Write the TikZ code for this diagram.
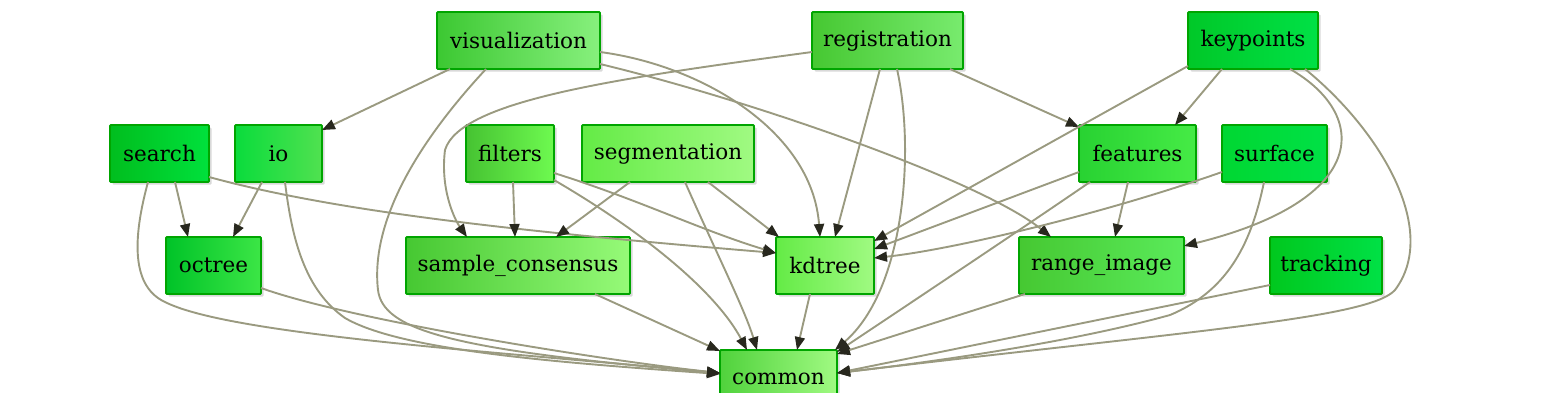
\documentclass[tikz,border=0pt]{standalone}
\usepackage{fontspec}
\setmainfont{DejaVu Serif}
\usetikzlibrary{arrows.meta,shadows,calc}
\definecolor{edgecol}{RGB}{154,154,128}
\definecolor{tipcol}{RGB}{40,40,30}
\definecolor{bordercol}{RGB}{0,165,0}
% node gradient colours
\definecolor{visA}{RGB}{60,200,50}\definecolor{visB}{RGB}{70,240,60}\definecolor{visC}{RGB}{135,240,125}
\definecolor{regA}{RGB}{70,200,50}\definecolor{regB}{RGB}{90,240,70}\definecolor{regC}{RGB}{120,235,110}
\definecolor{kpA}{RGB}{0,200,40}\definecolor{kpB}{RGB}{0,220,55}\definecolor{kpC}{RGB}{0,225,70}
\definecolor{srA}{RGB}{0,190,30}\definecolor{srB}{RGB}{0,210,45}\definecolor{srC}{RGB}{0,225,60}
\definecolor{ioA}{RGB}{10,220,60}\definecolor{ioB}{RGB}{40,225,70}\definecolor{ioC}{RGB}{80,225,80}
\definecolor{fiA}{RGB}{70,195,50}\definecolor{fiB}{RGB}{95,235,65}\definecolor{fiC}{RGB}{110,250,80}
\definecolor{seA}{RGB}{100,235,70}\definecolor{seB}{RGB}{130,245,100}\definecolor{seC}{RGB}{160,250,130}
\definecolor{feA}{RGB}{40,210,50}\definecolor{feB}{RGB}{55,230,60}\definecolor{feC}{RGB}{70,235,70}
\definecolor{suA}{RGB}{0,215,50}\definecolor{suB}{RGB}{0,222,60}\definecolor{suC}{RGB}{0,225,70}
\definecolor{ocA}{RGB}{0,195,40}\definecolor{ocB}{RGB}{0,230,60}\definecolor{ocC}{RGB}{60,230,70}
\definecolor{scA}{RGB}{70,200,50}\definecolor{scB}{RGB}{110,245,80}\definecolor{scC}{RGB}{150,250,120}
\definecolor{kdA}{RGB}{100,235,70}\definecolor{kdB}{RGB}{130,248,100}\definecolor{kdC}{RGB}{160,250,130}
\definecolor{riA}{RGB}{70,200,50}\definecolor{riB}{RGB}{80,225,70}\definecolor{riC}{RGB}{90,235,90}
\definecolor{trA}{RGB}{0,200,30}\definecolor{trB}{RGB}{0,215,50}\definecolor{trC}{RGB}{0,225,70}
\definecolor{coA}{RGB}{80,210,60}\definecolor{coB}{RGB}{120,245,90}\definecolor{coC}{RGB}{160,250,130}
\tikzset{
  box/.style={rectangle, draw=bordercol, line width=1.8pt, rounded corners=1pt,
    anchor=north west, minimum height=57pt, inner sep=0pt, outer sep=0pt,
    font=\fontsize{21.5}{24}\selectfont,
    drop shadow={shadow xshift=2.5pt,shadow yshift=-2.5pt,opacity=0.3}},
  grad/.style={left color=#1A, middle color=#1B, right color=#1C},
  edge/.style={draw=edgecol, line width=1.9pt, -{Triangle[length=13pt,width=10pt,color=tipcol]}},
}
\begin{document}
\begin{tikzpicture}[x=1pt,y=-1pt]
\useasboundingbox (0,0) rectangle (1545,410);
\begin{scope}
\clip (0,0) rectangle (1545,392);
% row 1
\node[box, grad=vis, minimum width=163pt] (vis) at (437,12) {visualization};
\node[box, grad=reg, minimum width=151pt] (reg) at (812,12) {registration};
\node[box, grad=kp,  minimum width=130pt] (kp)  at (1188,12) {keypoints};
% row 2
\node[box, grad=sr, minimum width=99pt]  (search) at (110,125) {search};
\node[box, grad=io, minimum width=87pt]  (io)     at (235,125) {io};
\node[box, grad=fi, minimum width=88pt]  (filt)   at (466,125) {filters};
\node[box, grad=se, minimum width=172pt] (seg)    at (582,125) {segmentation};
\node[box, grad=fe, minimum width=117pt] (feat)   at (1079,125) {features};
\node[box, grad=su, minimum width=105pt] (surf)   at (1222,125) {surface};
% row 3
\node[box, grad=oc, minimum width=95pt]  (oct) at (166,237) {octree};
\node[box, grad=sc, minimum width=224pt] (sc)  at (406,237) {sample\_consensus};
\node[box, grad=kd, minimum width=98pt]  (kd)  at (776,237) {kdtree};
\node[box, grad=ri, minimum width=165pt] (ri)  at (1019,237) {range\_image};
\node[box, grad=tr, minimum width=112pt] (tr)  at (1270,237) {tracking};
% row 4
\node[box, grad=co, minimum width=117pt] (com) at (720,350) {common};

% edges
% visualization
\draw[edge] ($(vis.north west)+(13,57)$) -- ($(io.north west)+(87,5)$);
\draw[edge] ($(vis.north west)+(49,57)$) .. controls (420,140) and (370,220) .. (378,290)
            .. controls (383,330) and (450,350) .. ($(com.north west)+(0,23)$);
\draw[edge] ($(vis.north west)+(163,40)$) .. controls (700,65) and (812,130) .. ($(kd.north west)+(44,0)$);
\draw[edge] ($(vis.north west)+(163,52)$) .. controls (750,100) and (980,180) .. ($(ri.north west)+(32,0)$);
% registration
\draw[edge] ($(reg.north west)+(0,40)$) .. controls (620,78) and (460,100) .. (445,150)
            .. controls (440,190) and (455,220) .. ($(sc.north west)+(61,0)$);
\draw[edge] ($(reg.north west)+(68,57)$) -- ($(kd.north west)+(59,0)$);
\draw[edge] ($(reg.north west)+(85,57)$) .. controls (915,150) and (905,290) .. ($(com.north west)+(115,0)$);
\draw[edge] ($(reg.north west)+(138,57)$) -- ($(feat.north west)+(0,2)$);
% keypoints
\draw[edge] ($(kp.north west)+(34,57)$) -- ($(feat.north west)+(96,0)$);
\draw[edge] ($(kp.north west)+(0,54)$) -- ($(kd.north west)+(98,4)$);
\draw[edge] ($(kp.north west)+(102,57)$) .. controls (1370,115) and (1370,200) .. ($(ri.north west)+(165,9)$);
\draw[edge] ($(kp.north west)+(117,57)$) .. controls (1380,130) and (1440,230) .. (1395,290)
            .. controls (1370,318) and (1200,330) .. ($(com.north west)+(117,23)$);
% search
\draw[edge] ($(search.north west)+(65,57)$) -- ($(oct.north west)+(22,0)$);
\draw[edge] ($(search.north west)+(99,52)$) .. controls (330,210) and (500,230) .. ($(kd.north west)+(0,16)$);
\draw[edge] ($(search.north west)+(38,57)$) .. controls (135,230) and (128,285) .. (165,302)
            .. controls (230,335) and (500,352) .. ($(com.north west)+(0,23)$);
% io
\draw[edge] ($(io.north west)+(27,57)$) -- ($(oct.north west)+(67,0)$);
\draw[edge] ($(io.north west)+(50,57)$) .. controls (292,240) and (305,290) .. (345,318)
            .. controls (400,350) and (550,362) .. ($(com.north west)+(0,24)$);
% filters
\draw[edge] ($(filt.north west)+(47,57)$) -- ($(sc.north west)+(109,0)$);
\draw[edge] ($(filt.north west)+(88,48)$) .. controls (640,200) and (700,230) .. ($(kd.north west)+(0,16)$);
\draw[edge] ($(filt.north west)+(88,55)$) .. controls (640,230) and (715,290) .. ($(com.north west)+(27,0)$);
% segmentation
\draw[edge] ($(seg.north west)+(48,57)$) -- ($(sc.north west)+(150,0)$);
\draw[edge] ($(seg.north west)+(126,57)$) -- ($(kd.north west)+(3,0)$);
\draw[edge] ($(seg.north west)+(103,57)$) .. controls (715,250) and (745,310) .. ($(com.north west)+(37,0)$);
% features
\draw[edge] ($(feat.north west)+(0,47)$) -- ($(kd.north west)+(98,12)$);
\draw[edge] ($(feat.north west)+(49,57)$) -- ($(ri.north west)+(96,0)$);
\draw[edge] ($(feat.north west)+(11,57)$) .. controls (1020,230) and (900,310) .. ($(com.north west)+(117,2)$);
% surface
\draw[edge] ($(surf.north west)+(0,47)$) .. controls (1100,215) and (950,250) .. ($(kd.north west)+(98,21)$);
\draw[edge] ($(surf.north west)+(42,57)$) .. controls (1252,240) and (1230,290) .. (1170,315)
            .. controls (1080,340) and (950,360) .. ($(com.north west)+(117,23)$);
% row 3 to common
\draw[edge] ($(oct.north west)+(95,51)$) .. controls (350,320) and (600,360) .. ($(com.north west)+(0,23)$);
\draw[edge] ($(sc.north west)+(189,57)$) -- ($(com.north west)+(0,1)$);
\draw[edge] ($(kd.north west)+(34,57)$) -- ($(com.north west)+(77,0)$);
\draw[edge] ($(ri.north west)+(6,57)$) -- ($(com.north west)+(117,4)$);
\draw[edge] ($(tr.north west)+(0,48)$) -- ($(com.north west)+(117,23)$);
\end{scope}
\end{tikzpicture}
\end{document}
